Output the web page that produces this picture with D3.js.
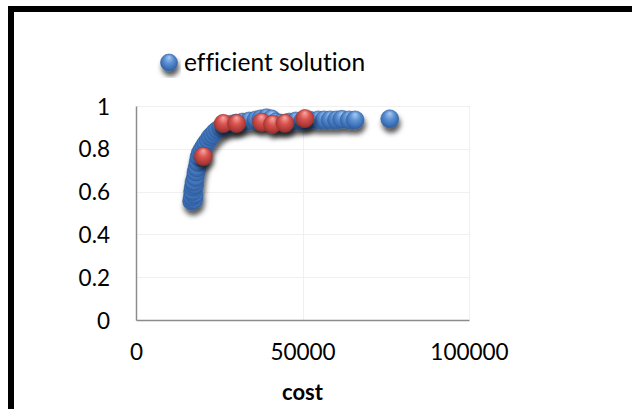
<!DOCTYPE html>
<html>
<head>
<meta charset="utf-8">
<script src="https://cdn.jsdelivr.net/npm/d3@7"></script>
<style>
  html, body { margin: 0; padding: 0; background: #fff; }
  svg { display: block; }
  text { font-family: Lato, "Open Sans", sans-serif; fill: #000; font-variant-ligatures: none; font-feature-settings: "liga" 0; }
</style>
</head>
<body>
<svg id="chart" width="632" height="409"></svg>
<script>
// ---- data ----
const xTicks = [0, 50000, 100000];
const yTicks = [0, 0.2, 0.4, 0.6, 0.8, 1];
const xTitle = "cost";
const legendLabel = "efficient solution";

const blueCost = [16700, 17300, 16900, 17500, 17000, 17200, 17600, 17400, 17800, 18000, 18300, 18600, 18900, 19300, 19800, 20400, 21000, 21700, 22300, 23000, 23700, 24500, 25400, 26300, 27300, 28500, 30000, 32000, 34000, 36000, 37500, 39200, 40700, 42000, 43500, 46000, 48000, 50000, 52000, 54700, 56500, 58300, 60200, 61800, 64000, 65800, 76200];
const blueEff  = [0.555, 0.56, 0.575, 0.585, 0.60, 0.62, 0.63, 0.645, 0.665, 0.69, 0.71, 0.735, 0.76, 0.78, 0.795, 0.81, 0.825, 0.84, 0.855, 0.865, 0.878, 0.888, 0.897, 0.905, 0.91, 0.915, 0.92, 0.925, 0.93, 0.935, 0.94, 0.945, 0.94, 0.925, 0.92, 0.925, 0.93, 0.93, 0.935, 0.935, 0.935, 0.935, 0.935, 0.938, 0.935, 0.935, 0.94];

const redCost = [20200, 26200, 30200, 37700, 41000, 44700, 50700];
const redEff  = [0.765, 0.919, 0.919, 0.925, 0.915, 0.92, 0.942];

// ---- layout ----
const svg = d3.select("#chart");
const x = d3.scaleLinear().domain([0, 100000]).range([136, 469]);
const y = d3.scaleLinear().domain([0, 1]).range([320, 106]);
const R = 9;

const defs = svg.append("defs");
function sphere(id, c0, c1, c2, c3) {
  const g = defs.append("radialGradient").attr("id", id)
    .attr("cx", "50%").attr("cy", "45%").attr("r", "60%")
    .attr("fx", "50%").attr("fy", "18%");
  g.append("stop").attr("offset", "0%").attr("stop-color", c0);
  g.append("stop").attr("offset", "45%").attr("stop-color", c1);
  g.append("stop").attr("offset", "80%").attr("stop-color", c2);
  g.append("stop").attr("offset", "100%").attr("stop-color", c3);
}
sphere("gBlue", "#a9ccf2", "#5b8fd3", "#3a6db4", "#2b5593");
sphere("gRed", "#f6aaa6", "#d9534f", "#b13a36", "#8e2a27");

const f = defs.append("filter").attr("id", "shadow")
  .attr("x", "-20%").attr("y", "-20%").attr("width", "140%").attr("height", "160%");
f.append("feDropShadow").attr("dx", 1.5).attr("dy", 5)
  .attr("stdDeviation", 2.5).attr("flood-color", "#000").attr("flood-opacity", 0.65);

// frame (extends past the right and bottom edges)
svg.append("rect").attr("x", 11).attr("y", 9).attr("width", 1000).attr("height", 1000)
  .attr("fill", "none").attr("stroke", "#000").attr("stroke-width", 6);

// faint gridlines
const grid = svg.append("g").attr("stroke", "#f0f0f0").attr("stroke-width", 1);
grid.selectAll(".gy").data(yTicks.filter(d => d > 0)).join("line")
  .attr("x1", x(0)).attr("x2", x(100000))
  .attr("y1", d => Math.round(y(d)) + 0.5).attr("y2", d => Math.round(y(d)) + 0.5);
grid.selectAll(".gx").data(xTicks.filter(d => d > 0)).join("line")
  .attr("y1", y(0)).attr("y2", y(1))
  .attr("x1", d => Math.round(x(d)) + 0.5).attr("x2", d => Math.round(x(d)) + 0.5);

// axes
const xAxis = d3.axisBottom(x).tickValues(xTicks).tickSize(0).tickPadding(24).tickFormat(d3.format("d"));
const yAxis = d3.axisLeft(y).tickValues(yTicks).tickSize(0).tickPadding(26).tickFormat(d => d === 0 ? "0" : d === 1 ? "1" : String(d));

const gx = svg.append("g").attr("transform", `translate(0,${y(0)})`).call(xAxis);
const gy = svg.append("g").attr("transform", `translate(${x(0)},0)`).call(yAxis);
[gx, gy].forEach(g => {
  g.select(".domain").attr("stroke", "#8c8c8c").attr("stroke-width", 1.5);
  g.selectAll("text").attr("font-family", "Lato, sans-serif").attr("font-size", 22.5).attr("fill", "#000");
});
gx.selectAll("text").attr("dy", "0.71em");
gy.selectAll("text").attr("dy", "0.36em");

svg.append("text").attr("x", x(50000)).attr("y", 400).attr("text-anchor", "middle")
  .attr("font-size", 22).attr("font-weight", "bold").text(xTitle);

// points
const blue = blueCost.map((c, i) => ({ c, e: blueEff[i] }));
const red = redCost.map((c, i) => ({ c, e: redEff[i] }));

svg.append("g").attr("filter", "url(#shadow)")
  .selectAll("circle").data(blue).join("circle")
  .attr("cx", d => x(d.c)).attr("cy", d => y(d.e)).attr("r", R)
  .attr("fill", "url(#gBlue)").attr("stroke", "#345f9a").attr("stroke-width", 0.6);

svg.append("g").attr("filter", "url(#shadow)")
  .selectAll("circle").data(red).join("circle")
  .attr("cx", d => x(d.c)).attr("cy", d => y(d.e)).attr("r", R)
  .attr("fill", "url(#gRed)").attr("stroke", "#9a3532").attr("stroke-width", 0.6);

// legend
const lg = svg.append("g");
lg.append("circle").attr("cx", 169).attr("cy", 62.5).attr("r", 8.5)
  .attr("fill", "url(#gBlue)").attr("stroke", "#345f9a").attr("stroke-width", 0.6)
  .attr("filter", "url(#shadow)");
lg.append("text").attr("x", 184).attr("y", 70.5).attr("font-size", 24.5).text(legendLabel);
</script>
</body>
</html>
